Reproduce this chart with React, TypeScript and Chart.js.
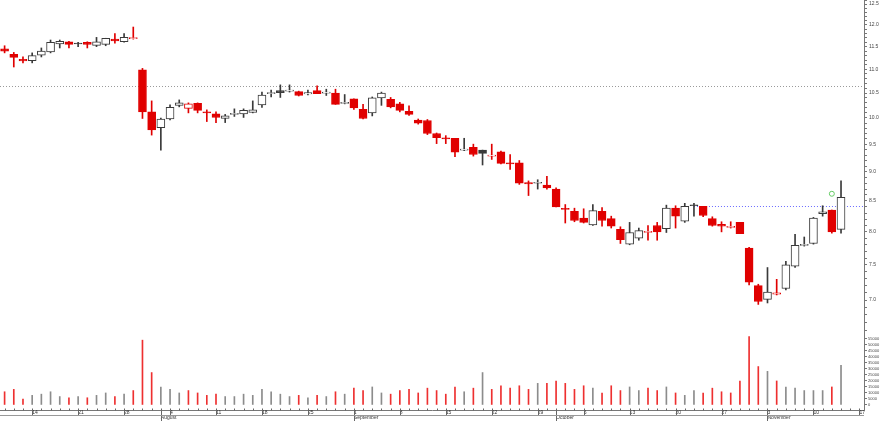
import React, { useEffect, useRef } from 'react';
import { Chart, registerables } from 'chart.js';

Chart.register(...registerables);

const DATES = [
  '2025-07-09','2025-07-10','2025-07-11','2025-07-14','2025-07-15','2025-07-16','2025-07-17','2025-07-18','2025-07-21','2025-07-22','2025-07-23','2025-07-24','2025-07-25','2025-07-28','2025-07-29','2025-07-30','2025-07-31',
  '2025-08-01','2025-08-04','2025-08-05','2025-08-06','2025-08-07','2025-08-08','2025-08-11','2025-08-12','2025-08-13','2025-08-14','2025-08-15','2025-08-18','2025-08-19','2025-08-20','2025-08-21','2025-08-22','2025-08-25','2025-08-26','2025-08-27','2025-08-28','2025-08-29',
  '2025-09-01','2025-09-02','2025-09-03','2025-09-04','2025-09-05','2025-09-08','2025-09-09','2025-09-10','2025-09-11','2025-09-12','2025-09-15','2025-09-16','2025-09-17','2025-09-18','2025-09-19','2025-09-22','2025-09-23','2025-09-24','2025-09-25','2025-09-26','2025-09-29','2025-09-30',
  '2025-10-01','2025-10-02','2025-10-03','2025-10-06','2025-10-07','2025-10-08','2025-10-09','2025-10-10','2025-10-13','2025-10-14','2025-10-15','2025-10-16','2025-10-17','2025-10-20','2025-10-21','2025-10-22','2025-10-23','2025-10-24','2025-10-27','2025-10-28','2025-10-29','2025-10-30','2025-10-31',
  '2025-11-03','2025-11-04','2025-11-05','2025-11-06','2025-11-07','2025-11-10','2025-11-11','2025-11-12','2025-11-13','2025-11-14','2025-11-17',
];

const OPEN = [
  11.45,11.33,11.22,11.19,11.31,11.38,11.56,11.61,11.58,11.60,11.53,11.55,11.67,11.61,11.68,10.99,10.12,
  9.81,9.98,10.25,10.19,10.29,10.11,10.08,9.99,10.07,10.08,10.11,10.26,10.49,10.55,10.54,10.53,10.48,10.55,10.50,10.50,10.29,
  10.38,10.17,10.10,10.40,10.37,10.28,10.13,9.96,9.95,9.70,9.61,9.61,9.39,9.44,9.39,9.28,9.36,9.16,9.16,8.81,8.80,8.77,
  8.70,8.37,8.33,8.22,8.11,8.33,8.21,8.04,7.81,7.90,7.99,8.10,8.05,8.38,8.17,8.43,8.41,8.21,8.12,8.07,8.15,7.75,7.20,
  7.01,7.08,7.16,7.48,7.79,7.82,8.29,8.35,8.04,
];
const HIGH = [
  11.52,11.37,11.27,11.36,11.47,11.65,11.65,11.62,11.60,11.61,11.71,11.69,11.80,11.80,11.95,11.02,10.34,
  10.00,10.26,10.36,10.30,10.30,10.16,10.12,10.07,10.18,10.18,10.34,10.52,10.56,10.67,10.67,10.54,10.56,10.65,10.58,10.58,10.47,
  10.38,10.27,10.42,10.52,10.41,10.31,10.24,9.98,9.97,9.71,9.66,9.61,9.61,9.50,9.39,9.50,9.37,9.31,9.20,8.84,8.86,8.92,
  8.72,8.44,8.38,8.37,8.44,8.39,8.25,8.08,8.15,8.06,8.10,8.15,8.43,8.42,8.46,8.46,8.41,8.24,8.16,8.16,8.15,7.76,7.22,
  7.46,7.29,7.55,7.96,7.92,8.23,8.42,8.35,8.84,
];
const LOW = [
  11.36,11.05,11.14,11.14,11.27,11.36,11.47,11.47,11.50,11.47,11.50,11.52,11.58,11.60,11.67,9.99,9.67,
  9.39,9.96,10.22,10.10,10.10,9.93,9.91,9.91,10.03,10.01,10.10,10.21,10.42,10.41,10.52,10.44,10.46,10.49,10.45,10.27,10.28,
  10.17,9.98,10.04,10.25,10.20,10.12,10.05,9.88,9.68,9.51,9.51,9.27,9.38,9.28,9.12,9.22,9.14,9.04,8.78,8.59,8.70,8.70,
  8.40,8.14,8.16,8.14,8.10,8.09,8.06,7.82,7.80,7.87,7.87,7.87,7.99,8.06,8.15,8.25,8.24,8.09,8.00,8.06,7.97,7.21,6.94,
  6.96,7.07,7.14,7.46,7.78,7.81,8.25,7.98,7.98,
];
const CLOSE = [
  11.40,11.26,11.18,11.30,11.40,11.60,11.62,11.55,11.56,11.55,11.61,11.69,11.63,11.71,11.70,10.12,9.77,
  9.98,10.21,10.30,10.28,10.15,10.10,10.01,10.04,10.09,10.15,10.16,10.46,10.51,10.51,10.55,10.45,10.51,10.49,10.51,10.27,10.30,
  10.20,9.99,10.40,10.50,10.22,10.15,10.07,9.90,9.70,9.62,9.60,9.35,9.41,9.31,9.33,9.30,9.15,9.14,8.80,8.79,8.81,8.72,
  8.40,8.36,8.18,8.15,8.34,8.18,8.09,7.88,7.99,8.02,8.01,8.00,8.38,8.25,8.41,8.42,8.26,8.10,8.09,8.08,7.97,7.25,6.98,
  7.11,7.10,7.50,7.79,7.80,8.22,8.32,8.00,8.56,
];
const VOLUME = [
  11000,13000,5000,8000,9000,11000,7000,6000,7000,6000,8000,10000,7000,9000,12000,54000,27000,
  15000,13000,10000,12000,10000,8000,9000,7000,7000,9000,8000,13000,11000,9000,7000,8000,6000,8000,7000,11000,9000,
  14000,12000,15000,10000,9000,12000,13000,10000,14000,12000,9000,15000,11000,14000,27000,13000,16000,14000,16000,13000,18000,18000,
  20000,18000,13000,16000,14000,10000,16000,12000,15000,12000,14000,12000,15000,10000,8000,12000,10000,14000,11000,10000,20000,57000,32000,
  28000,20000,15000,14000,12000,12000,12000,15000,33000,
];

const PRICE_LABELS = [7.0, 7.5, 8.0, 8.5, 9.0, 9.5, 10.0, 10.5, 11.0, 11.5, 12.0, 12.5];
const VOLUME_LABELS = [0, 5000, 10000, 15000, 20000, 25000, 30000, 35000, 40000, 45000, 50000, 55000];
const MONTH_NAMES = ['January','February','March','April','May','June','July','August','September','October','November','December'];

const REF_LEVEL = 10.64;
const RESIST_LEVEL = 8.42;
const RESIST_START = '2025-10-22';
const MARKER_DATE = '2025-11-12';
const MARKER_VALUE = 8.62;

const FONT = 'Liberation Sans';

export default function App() {
  const ref = useRef<HTMLCanvasElement>(null);

  useEffect(() => {
    document.body.style.margin = '0';
    const RED = '#e00000';
    const DARK = '#3a3a3a';
    const col = CLOSE.map((c, i) => (c < (i > 0 ? CLOSE[i - 1] : OPEN[i]) ? RED : DARK));
    const fill = CLOSE.map((c, i) => (c < OPEN[i] ? col[i] : '#ffffff'));
    const volCol = col.map((c) => (c === RED ? '#ee3030' : '#8c8c8c'));
    const markerIdx = DATES.indexOf(MARKER_DATE);
    const markerData = DATES.map((_, i) => (i === markerIdx ? MARKER_VALUE : null));
    const dayOf = (d: string) => new Date(d + 'T00:00:00Z');
    const isMonday = (i: number) => dayOf(DATES[i]).getUTCDay() === 1;
    const isMonthStart = (i: number) => i > 0 && DATES[i].slice(5, 7) !== DATES[i - 1].slice(5, 7);

    const priceMinor: number[] = [];
    for (let v = 66; v <= 126; v++) priceMinor.push(v / 10);

    const noPad = (s: any) => {
      s.paddingTop = 0;
      s.paddingBottom = 0;
      s.paddingLeft = 0;
      s.paddingRight = 0;
    };

    const deco = {
      id: 'deco',
      beforeDatasetsDraw(chart: any) {
        const { ctx, chartArea, scales } = chart;
        ctx.save();
        ctx.lineWidth = 1;
        const yRef = Math.round(scales.y.getPixelForValue(REF_LEVEL)) + 0.5;
        ctx.strokeStyle = '#9a9a9a';
        ctx.setLineDash([1, 2]);
        ctx.beginPath();
        ctx.moveTo(chartArea.left, yRef);
        ctx.lineTo(chartArea.right, yRef);
        ctx.stroke();
        const yRes = Math.round(scales.y.getPixelForValue(RESIST_LEVEL)) + 0.5;
        const xRes = scales.x.getPixelForValue(DATES.indexOf(RESIST_START));
        ctx.strokeStyle = '#6b6bff';
        ctx.setLineDash([1, 2]);
        ctx.beginPath();
        ctx.moveTo(xRes, yRes);
        ctx.lineTo(chartArea.right, yRes);
        ctx.stroke();
        ctx.restore();
      },
      afterDraw(chart: any) {
        const { ctx, chartArea, scales } = chart;
        const xs = scales.x;
        const b = Math.round(chartArea.bottom) + 0.5;
        ctx.save();
        ctx.lineWidth = 1;
        ctx.strokeStyle = '#666';
        for (let i = 0; i < DATES.length; i++) {
          const px = Math.round(xs.getPixelForValue(i)) + 0.5;
          ctx.beginPath();
          ctx.moveTo(px, b - 2);
          ctx.lineTo(px, b);
          if (isMonthStart(i)) {
            ctx.moveTo(px, b);
            ctx.lineTo(px, chart.height);
          } else if (isMonday(i)) {
            ctx.moveTo(px, b);
            ctx.lineTo(px, b + 5);
          }
          ctx.stroke();
        }
        ctx.beginPath();
        ctx.moveTo(chartArea.left, b + 5);
        ctx.lineTo(chartArea.right, b + 5);
        ctx.strokeStyle = '#999';
        ctx.stroke();
        ctx.restore();
      },
    };

    const chart = new Chart(ref.current as HTMLCanvasElement, {
      type: 'bar',
      data: {
        labels: DATES,
        datasets: [
          {
            type: 'line',
            data: markerData as any,
            xAxisID: 'x',
            yAxisID: 'y',
            showLine: false,
            pointRadius: 2.5,
            pointBorderWidth: 1,
            pointBorderColor: '#66cc66',
            pointBackgroundColor: 'rgba(255,255,255,0)',
            order: 0,
          } as any,
          {
            data: OPEN.map((o, i) => [o, CLOSE[i]]) as any,
            xAxisID: 'x',
            yAxisID: 'y',
            backgroundColor: fill,
            borderColor: col,
            borderWidth: 1,
            borderSkipped: false,
            barThickness: 8,
            minBarLength: 1,
            grouped: false,
            order: 1,
          },
          {
            data: LOW.map((l, i) => [l, HIGH[i]]) as any,
            xAxisID: 'x',
            yAxisID: 'y',
            backgroundColor: col,
            barThickness: 1,
            grouped: false,
            order: 2,
          },
          {
            data: VOLUME,
            xAxisID: 'x',
            yAxisID: 'yv',
            backgroundColor: volCol,
            barThickness: 1,
            grouped: false,
            order: 3,
          },
        ],
      },
      options: {
        responsive: false,
        animation: false,
        devicePixelRatio: 1,
        layout: { padding: 0, autoPadding: false },
        plugins: { legend: { display: false }, tooltip: { enabled: false } },
        scales: {
          x: {
            type: 'category',
            position: 'bottom',
            offset: true,
            grid: { display: true, drawOnChartArea: false, drawTicks: false, offset: false },
            border: { display: true, color: '#777' },
            ticks: {
              autoSkip: false,
              maxRotation: 0,
              minRotation: 0,
              align: 'start',
              padding: 0,
              color: '#333',
              font: { family: FONT, size: 5, lineHeight: 1 },
              callback: (_v: any, i: number) => (isMonday(i) ? String(parseInt(DATES[i].slice(8), 10)) : ''),
            },
            afterFit: (s: any) => { s.height = 5; noPad(s); },
          },
          x2: {
            type: 'category',
            position: 'bottom',
            offset: true,
            grid: { display: false, drawTicks: false },
            border: { display: false },
            ticks: {
              autoSkip: false,
              maxRotation: 0,
              minRotation: 0,
              align: 'start',
              padding: 0,
              color: '#333',
              font: { family: FONT, size: 5, lineHeight: 1 },
              callback: (_v: any, i: number) => (isMonthStart(i) ? MONTH_NAMES[parseInt(DATES[i].slice(5, 7), 10) - 1] : ''),
            },
            afterFit: (s: any) => { s.height = 6; noPad(s); },
          },
          y: {
            type: 'logarithmic',
            position: 'right',
            stack: 'right',
            stackWeight: 332,
            min: 6.575,
            max: 12.6,
            grid: { drawOnChartArea: false, drawTicks: true, tickLength: 3, color: '#777' },
            border: { display: true, color: '#777' },
            ticks: {
              autoSkip: false,
              padding: 2,
              color: '#444',
              font: { family: FONT, size: 5 },
              callback: (v: any) => {
                const n = Number(v);
                return PRICE_LABELS.some((p) => Math.abs(p - n) < 1e-6) ? n.toFixed(1) : '';
              },
            },
            afterBuildTicks: (s: any) => { s.ticks = priceMinor.map((v) => ({ value: v })); },
            afterFit: (s: any) => { s.width = 16; noPad(s); },
          },
          yv: {
            type: 'linear',
            position: 'right',
            stack: 'right',
            stackWeight: 78,
            min: -4200,
            max: 60800,
            grid: { drawOnChartArea: false, drawTicks: true, tickLength: 3, color: '#777' },
            border: { display: true, color: '#777' },
            ticks: {
              autoSkip: false,
              padding: 1,
              color: '#444',
              font: { family: FONT, size: 4 },
              callback: (v: any) => String(v),
            },
            afterBuildTicks: (s: any) => { s.ticks = VOLUME_LABELS.map((v) => ({ value: v })); },
            afterFit: (s: any) => { s.width = 16; noPad(s); },
          },
        } as any,
      },
      plugins: [deco],
    });
    return () => chart.destroy();
  }, []);

  return (
    <div style={{ width: 880, height: 421 }}>
      <canvas ref={ref} width={880} height={421} />
    </div>
  );
}
